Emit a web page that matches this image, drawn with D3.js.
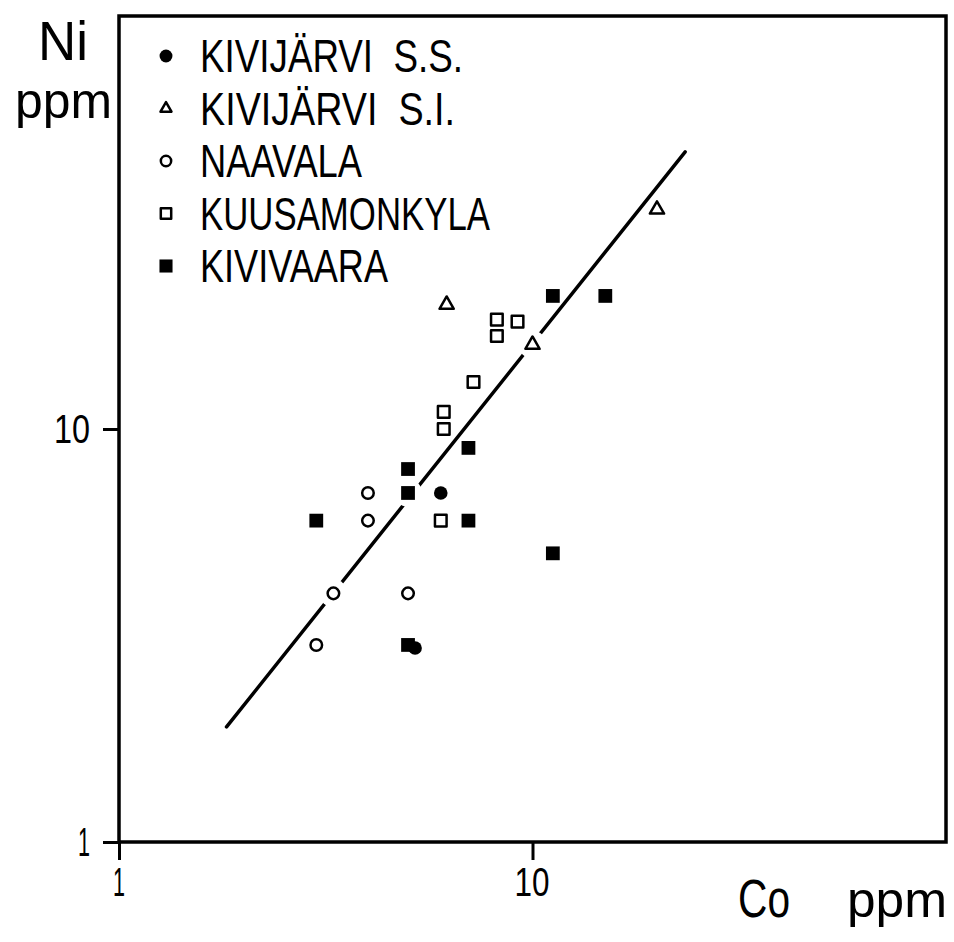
<!DOCTYPE html>
<html>
<head>
<meta charset="utf-8">
<script src="https://cdn.jsdelivr.net/npm/d3@7"></script>
<style>
  body { margin: 0; background: #fff; }
  svg text { font-family: "Liberation Sans", Arial, sans-serif; fill: #000; white-space: pre; }
</style>
</head>
<body>
<svg id="chart" width="954" height="942"></svg>
<script>
// ---------------- DATA ----------------
const seriesNames = ["KIVIJÄRVI  S.S.", "KIVIJÄRVI  S.I.", "NAAVALA", "KUUSAMONKYLA", "KIVIVAARA"];

const kivijarviSS_Co = [6, 5.2];
const kivijarviSS_Ni = [7, 2.95];

const kivijarviSI_Co = [6.2, 10, 20];
const kivijarviSI_Ni = [20, 16, 34];

const naavala_Co = [4, 4, 3.3, 5, 3];
const naavala_Ni = [7, 6, 4, 4, 3];

const kuusamonkyla_Co = [8.2, 9.2, 8.2, 7.2, 6.1, 6.1, 6];
const kuusamonkyla_Ni = [18.4, 18.2, 16.8, 13, 11, 10, 6];

const kivivaara_Co = [3, 5, 5, 7, 7, 11.2, 15, 11.2, 5];
const kivivaara_Ni = [6, 8, 7, 9, 6, 21, 21, 5, 3];

// regression line end points (Co, Ni)
const trendCo = [1.82, 23.4];
const trendNi = [1.90, 46.9];

const xTicks = [1, 10];
const yTicks = [1, 10];
const xTitle = ["Co", "ppm"];
const yTitle = ["Ni", "ppm"];

// ---------------- RENDER ----------------
const svg = d3.select("#chart");
svg.append("rect").attr("width", 954).attr("height", 942).attr("fill", "#fff");

const x = d3.scaleLog().domain([1, 100]).range([119, 946]);
const y = d3.scaleLog().domain([1, 100]).range([842, 16]);
const fmt = d3.format("d");

// axes tick marks
const gx = svg.append("g").attr("transform", "translate(0,842)")
  .call(d3.axisBottom(x).tickValues(xTicks).tickFormat(fmt).tickSize(18));
const gy = svg.append("g").attr("transform", "translate(119,0)")
  .call(d3.axisLeft(y).tickValues(yTicks).tickFormat(fmt).tickSize(16));
[gx, gy].forEach(g => {
  g.select(".domain").remove();
  g.selectAll(".tick text").remove();
  g.selectAll(".tick line").attr("stroke", "#000").attr("stroke-width", 3);
});

// tick labels
svg.append("g").selectAll("text").data(xTicks).join("text")
  .attr("x", d => x(d) - (d >= 10 ? 18 : 6))
  .attr("y", 896)
  .attr("font-size", 40)
  .attr("textLength", d => d >= 10 ? 35 : 12)
  .attr("lengthAdjust", "spacingAndGlyphs")
  .text(fmt);
svg.append("g").selectAll("text").data(yTicks).join("text")
  .attr("x", 90)
  .attr("y", d => y(d) + 14)
  .attr("text-anchor", "end")
  .attr("font-size", 40)
  .attr("textLength", d => d >= 10 ? 36 : 12)
  .attr("lengthAdjust", "spacingAndGlyphs")
  .text(fmt);

// frame
svg.append("rect")
  .attr("x", x(1)).attr("y", y(100))
  .attr("width", x(100) - x(1)).attr("height", y(1) - y(100))
  .attr("fill", "none").attr("stroke", "#000").attr("stroke-width", 3.5);

// axis titles
svg.append("text").attr("x", 38).attr("y", 60).attr("font-size", 56)
  .attr("textLength", 50).attr("lengthAdjust", "spacingAndGlyphs").text(yTitle[0]);
svg.append("text").attr("x", 15).attr("y", 118).attr("font-size", 50)
  .attr("textLength", 97).attr("lengthAdjust", "spacingAndGlyphs").text(yTitle[1]);
svg.append("text").attr("x", 738).attr("y", 917).attr("font-size", 54)
  .attr("textLength", 52).attr("lengthAdjust", "spacingAndGlyphs").text(xTitle[0]);
svg.append("text").attr("x", 847).attr("y", 917).attr("font-size", 50)
  .attr("textLength", 100).attr("lengthAdjust", "spacingAndGlyphs").text(xTitle[1]);

// series definitions
const series = [
  { name: seriesNames[0], co: kivijarviSS_Co, ni: kivijarviSS_Ni, type: d3.symbolCircle, size: 145, filled: true },
  { name: seriesNames[1], co: kivijarviSI_Co, ni: kivijarviSI_Ni, type: d3.symbolTriangle, size: 88, filled: false },
  { name: seriesNames[2], co: naavala_Co, ni: naavala_Ni, type: d3.symbolCircle, size: 105, filled: false },
  { name: seriesNames[3], co: kuusamonkyla_Co, ni: kuusamonkyla_Ni, type: d3.symbolSquare, size: 135, filled: false },
  { name: seriesNames[4], co: kivivaara_Co, ni: kivivaara_Ni, type: d3.symbolSquare, size: 190, filled: true }
];

// regression line
const p1 = [x(trendCo[0]), y(trendNi[0])];
const p2 = [x(trendCo[1]), y(trendNi[1])];
svg.append("line")
  .attr("x1", p1[0]).attr("y1", p1[1]).attr("x2", p2[0]).attr("y2", p2[1])
  .attr("stroke", "#000").attr("stroke-width", 3.5).attr("stroke-linecap", "round");

function distToLine(px, py) {
  const dx = p2[0] - p1[0], dy = p2[1] - p1[1];
  return Math.abs(dy * px - dx * py + p2[0] * p1[1] - p2[1] * p1[0]) / Math.hypot(dx, dy);
}

const points = [];
series.forEach(s => s.co.forEach((c, i) => points.push({ s, cx: x(c), cy: y(s.ni[i]) })));

// white gaps where the line runs through a marker
svg.append("g").selectAll("circle")
  .data(points.filter(p => distToLine(p.cx, p.cy) < 8))
  .join("circle")
  .attr("cx", p => p.cx).attr("cy", p => p.cy).attr("r", 14).attr("fill", "#fff");

// markers
svg.append("g").selectAll("path")
  .data(points)
  .join("path")
  .attr("transform", p => `translate(${p.cx},${p.cy})`)
  .attr("d", p => d3.symbol().type(p.s.type).size(p.s.size)())
  .attr("fill", p => p.s.filled ? "#000" : "#fff")
  .attr("stroke", p => p.s.filled ? "none" : "#000")
  .attr("stroke-width", 2.5)
  .attr("stroke-linejoin", "round");

// legend
const legendWidths = [263, 255, 162, 290, 188];
const lg = svg.append("g");
series.forEach((s, i) => {
  const base = 72 + i * 52.5;
  lg.append("path")
    .attr("transform", `translate(166,${base - 16})`)
    .attr("d", d3.symbol().type(s.type).size(s.type === d3.symbolTriangle ? 52 : s.size * (s.filled ? 0.9 : 0.8))())
    .attr("fill", s.filled ? "#000" : "#fff")
    .attr("stroke", s.filled ? "none" : "#000")
    .attr("stroke-width", 2.5)
    .attr("stroke-linejoin", "round");
  lg.append("text")
    .attr("x", 200).attr("y", base)
    .attr("font-size", 46)
    .attr("textLength", legendWidths[i]).attr("lengthAdjust", "spacingAndGlyphs")
    .text(s.name);
});
</script>
</body>
</html>
